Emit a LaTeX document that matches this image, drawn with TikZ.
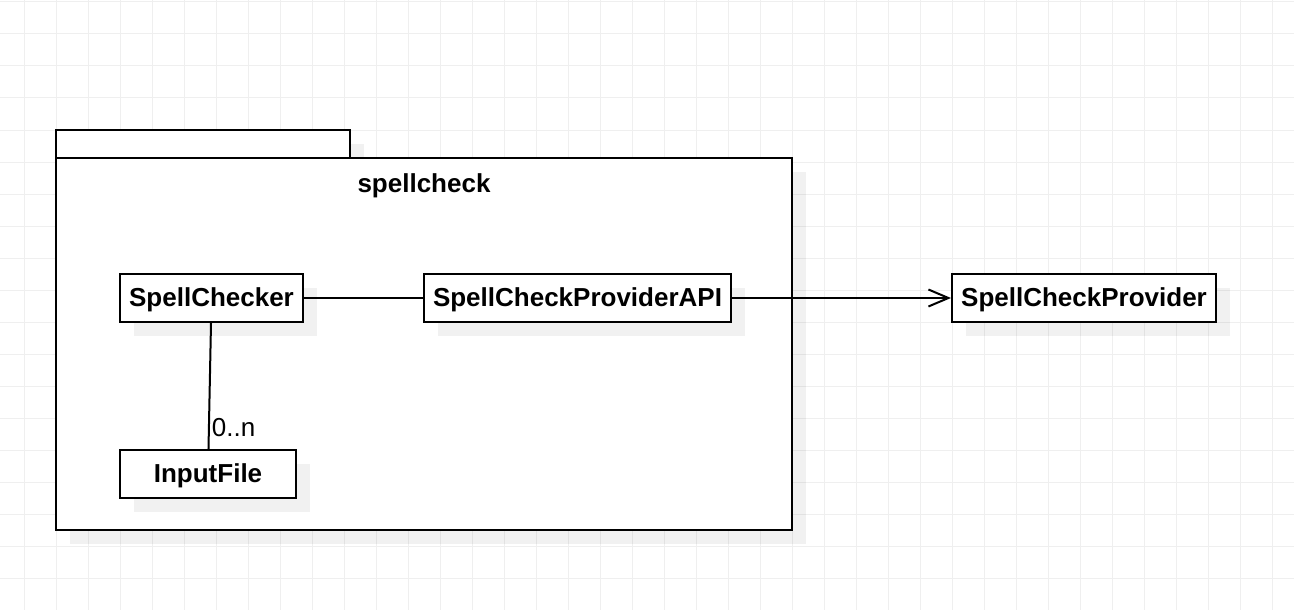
\documentclass[tikz,border=0pt]{standalone}
\usepackage{fontspec}
\setmainfont{Liberation Sans}
\usetikzlibrary{arrows.meta,positioning,shadows}
\definecolor{gridcolor}{RGB}{239,239,239}
\definecolor{bordercolor}{RGB}{0,0,0}
\definecolor{shadowcolor}{RGB}{0,0,0}
\tikzset{
    shadowed/.style={
        drop shadow={shadow xshift=14pt, shadow yshift=-14pt, fill=shadowcolor, opacity=0.055}
    },
    boldtext/.style={
        font=\fontsize{26}{30}\selectfont\bfseries,
        text height=18pt,
        text depth=2pt
    },
    classbox/.style={
        rectangle,
        minimum height=48pt,
        inner sep=0pt,
        text centered,
        draw=bordercolor,
        fill=white,
        line width=2pt,
        boldtext,
        shadowed
    },
    pkgbox/.style={
        rectangle,
        inner sep=0pt,
        draw=bordercolor,
        fill=white,
        line width=2pt,
        shadowed
    },
    gridline/.style={draw=gridcolor, line width=1pt},
    assoc/.style={draw=bordercolor, line width=2pt},
    navigable/.style={assoc, -{Straight Barb[length=20pt, width=17pt]}},
    multlabel/.style={font=\fontsize{26}{30}\selectfont, inner sep=2pt}
}
\begin{document}
\begin{tikzpicture}[x=1pt, y=-1pt]
    \useasboundingbox (0,0) rectangle (1294,610);

    % Background grid
    \foreach \gx in {24,56,...,1272}
        \draw[gridline] (\gx,0) -- (\gx,610);
    \foreach \gy in {2,34,...,578}
        \draw[gridline] (0,\gy) -- (1294,\gy);

    % Package
    \node[pkgbox, minimum width=294pt, minimum height=28pt] (pkgtab) at (203,144) {};
    \node[pkgbox, minimum width=736pt, minimum height=372pt] (pkg) at (424,344) {};
    \node[boldtext, inner sep=0pt] (pkgname) at (424,184) {spellcheck};

    % Classes
    \node[classbox, minimum width=183pt] (checker) at (211.5,298) {SpellChecker};
    \node[classbox, minimum width=307pt] (api) at (577.5,298) {SpellCheckProviderAPI};
    \node[classbox, minimum width=176pt] (input) at (208,474) {InputFile};
    \node[classbox, minimum width=264pt] (provider) at (1084,298) {SpellCheckProvider};

    % Associations
    \draw[assoc] (checker) -- (api);
    \draw[assoc] (checker) -- node[multlabel, pos=0.83, anchor=west] (mult) {0..n} (input);
    \draw[navigable] (api) -- (provider);
\end{tikzpicture}
\end{document}
